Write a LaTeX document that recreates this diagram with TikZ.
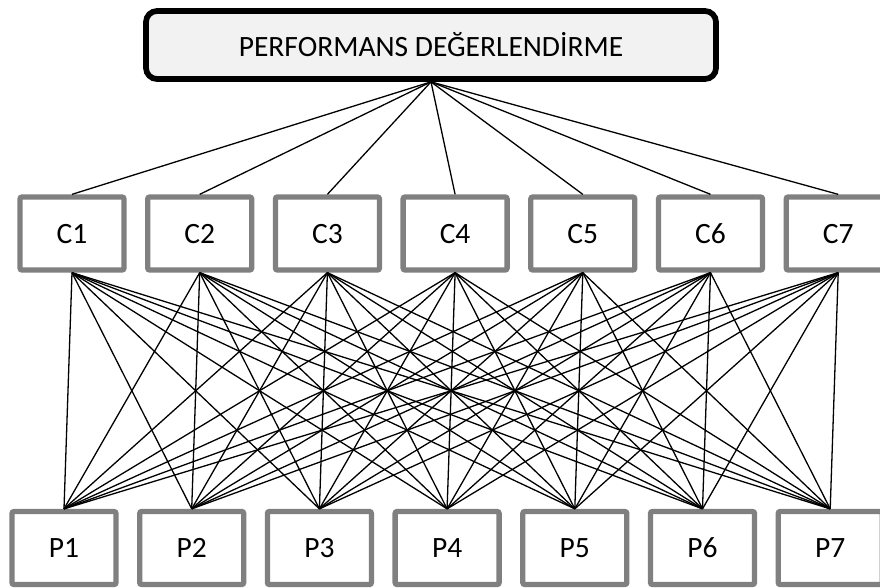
\documentclass[tikz,border=0pt]{standalone}
\usepackage{fontspec}
\setmainfont{Carlito}
\usetikzlibrary{positioning}

\begin{document}
\begin{tikzpicture}[
  x=1pt, y=1pt,
  node distance=18.4pt,
  goal/.style={
    draw=black,
    line width=5.7pt,
    fill=gray!10,
    rounded corners=11pt,
    minimum width=570pt,
    minimum height=68pt,
    font=\fontsize{29.5}{33}\selectfont
  },
  crit/.style={
    draw=gray,
    line width=5.3pt,
    rounded corners=2pt,
    minimum width=104pt,
    minimum height=73pt,
    text height=19pt,
    text depth=0pt,
    font=\fontsize{29.5}{33}\selectfont
  },
  link/.style={line width=1.3pt}
]
\useasboundingbox (0,0) rectangle (880,-587);

\node[goal] (perf) at (431,-45) {PERFORMANS DEĞERLENDİRME};

\node[crit] (c1) at (72,-233.5) {C1};
\node[crit, right=of c1] (c2) {C2};
\node[crit, right=of c2] (c3) {C3};
\node[crit, right=of c3] (c4) {C4};
\node[crit, right=of c4] (c5) {C5};
\node[crit, right=of c5] (c6) {C6};
\node[crit, right=of c6] (c7) {C7};

\node[crit] (p1) at (64,-548) {P1};
\node[crit, right=of p1] (p2) {P2};
\node[crit, right=of p2] (p3) {P3};
\node[crit, right=of p3] (p4) {P4};
\node[crit, right=of p4] (p5) {P5};
\node[crit, right=of p5] (p6) {P6};
\node[crit, right=of p6] (p7) {P7};

% goal to criteria
\draw[link] (perf.south) edge (c1.north) edge (c2.north) edge (c3.north) edge (c4.north)
  edge (c5.north) edge (c6.north) edge (c7.north);

% criteria to alternatives
\draw[link] (c1.south) edge (p1.north) edge (p2.north) edge (p3.north) edge (p4.north) edge (p5.north) edge (p6.north) edge (p7.north);
\draw[link] (c2.south) edge (p1.north) edge (p2.north) edge (p3.north) edge (p4.north) edge (p5.north) edge (p6.north) edge (p7.north);
\draw[link] (c3.south) edge (p1.north) edge (p2.north) edge (p3.north) edge (p4.north) edge (p5.north) edge (p6.north) edge (p7.north);
\draw[link] (c4.south) edge (p1.north) edge (p2.north) edge (p3.north) edge (p4.north) edge (p5.north) edge (p6.north) edge (p7.north);
\draw[link] (c5.south) edge (p1.north) edge (p2.north) edge (p3.north) edge (p4.north) edge (p5.north) edge (p6.north) edge (p7.north);
\draw[link] (c6.south) edge (p1.north) edge (p2.north) edge (p3.north) edge (p4.north) edge (p5.north) edge (p6.north) edge (p7.north);
\draw[link] (c7.south) edge (p1.north) edge (p2.north) edge (p3.north) edge (p4.north) edge (p5.north) edge (p6.north) edge (p7.north);
\end{tikzpicture}
\end{document}
